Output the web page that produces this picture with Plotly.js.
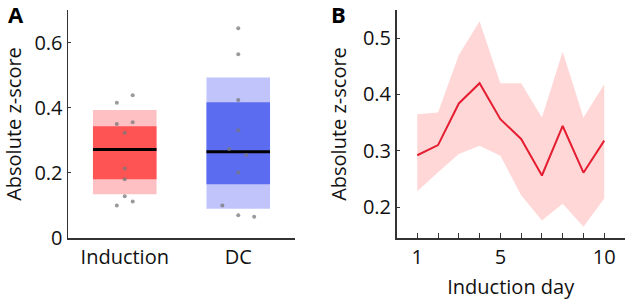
<!DOCTYPE html>
<html><head><meta charset="utf-8">
<script src="https://cdn.plot.ly/plotly-3.0.1.min.js"></script>
<style>html,body{margin:0;padding:0;background:#fff}#c{width:630px;height:300px}</style>
</head><body><div id="c"></div>
<script>
// Panel A data
const groups = ["Induction", "DC"];
const outerLow = [0.134, 0.090];
const outerHigh = [0.393, 0.493];
const innerLow = [0.180, 0.165];
const innerHigh = [0.343, 0.417];
const medians = [0.272, 0.265];
const inductionPts = [0.415, 0.438, 0.350, 0.355, 0.323, 0.213, 0.180, 0.128, 0.100, 0.112];
const inductionJitter = [-0.07, 0.07, -0.07, 0.07, 0, 0, 0, 0, -0.07, 0.07];
const dcPts = [0.644, 0.564, 0.424, 0.331, 0.273, 0.255, 0.201, 0.100, 0.070, 0.065];
const dcJitter = [0, 0, 0, 0, -0.08, 0.07, 0, -0.14, 0, 0.14];

// Panel B data
const days = [1, 2, 3, 4, 5, 6, 7, 8, 9, 10];
const meanZ = [0.292, 0.310, 0.384, 0.420, 0.356, 0.321, 0.256, 0.344, 0.261, 0.318];
const upperZ = [0.365, 0.368, 0.470, 0.530, 0.420, 0.420, 0.359, 0.476, 0.359, 0.418];
const lowerZ = [0.228, 0.262, 0.294, 0.309, 0.291, 0.221, 0.176, 0.206, 0.165, 0.215];

const outerColors = ["rgb(255,192,196)", "rgb(192,196,250)"];
const innerColors = ["rgb(255,84,84)", "rgb(92,108,240)"];
const boxW = 0.56;
const xs = groups.map((g, i) => i);

const traces = [];
traces.push({type: "bar", x: xs, base: outerLow, y: outerHigh.map((v, i) => v - outerLow[i]),
  width: boxW, marker: {color: outerColors, line: {width: 0}}, xaxis: "x", yaxis: "y", hoverinfo: "skip"});
traces.push({type: "bar", x: xs, base: innerLow, y: innerHigh.map((v, i) => v - innerLow[i]),
  width: boxW, marker: {color: innerColors, line: {width: 0}}, xaxis: "x", yaxis: "y", hoverinfo: "skip"});
medians.forEach((m, i) => {
  traces.push({type: "scatter", mode: "lines", x: [i - boxW / 2, i + boxW / 2], y: [m, m],
    line: {color: "#000", width: 3}, xaxis: "x", yaxis: "y"});
});
traces.push({type: "scatter", mode: "markers", x: inductionPts.map((v, k) => 0 + inductionJitter[k]), y: inductionPts,
  marker: {color: "rgba(120,120,120,0.75)", size: 4}, xaxis: "x", yaxis: "y"});
traces.push({type: "scatter", mode: "markers", x: dcPts.map((v, k) => 1 + dcJitter[k]), y: dcPts,
  marker: {color: "rgba(120,120,120,0.75)", size: 4}, xaxis: "x", yaxis: "y"});

traces.push({type: "scatter", mode: "lines", x: days, y: lowerZ, line: {width: 0}, xaxis: "x2", yaxis: "y2", hoverinfo: "skip"});
traces.push({type: "scatter", mode: "lines", x: days, y: upperZ, line: {width: 0}, fill: "tonexty",
  fillcolor: "rgba(255,205,205,0.8)", xaxis: "x2", yaxis: "y2", hoverinfo: "skip"});
traces.push({type: "scatter", mode: "lines", x: days, y: meanZ, line: {color: "rgb(230,30,50)", width: 2}, xaxis: "x2", yaxis: "y2"});

const font = {family: "Open Sans, sans-serif", size: 20, color: "#111"};
const tickVals2 = [0,1,2,3,4,5,6,7,8,9,10,11];
const tickText2 = tickVals2.map(v => (v === 1 || v === 5 || v === 10) ? String(v) : "");

const layout = {
  width: 630, height: 300, showlegend: false, barmode: "overlay",
  paper_bgcolor: "#fff", plot_bgcolor: "#fff",
  margin: {l: 0, r: 0, t: 0, b: 0},
  font: font,
  xaxis: {domain: [68/630, 295/630], range: [-0.5, 1.5], tickvals: xs, ticktext: groups,
    showline: true, linecolor: "#333", linewidth: 1.5, showgrid: false, zeroline: false,
    ticks: "", automargin: false, tickfont: font},
  yaxis: {domain: [62/300, 290/300], range: [0, 0.7], tickvals: [0, 0.2, 0.4, 0.6], ticktext: ["0", "0.2", "0.4", "0.6"],
    showline: true, linecolor: "#333", linewidth: 1.5, showgrid: false, zeroline: false,
    ticks: "inside", ticklen: 3, tickcolor: "#333", automargin: false, tickfont: font,
    title: {text: "Absolute z-score", font: font}},
  xaxis2: {domain: [396.5/630, 625/630], range: [0, 11], tickvals: tickVals2, ticktext: tickText2,
    showline: true, linecolor: "#333", linewidth: 1.5, showgrid: false, zeroline: false,
    ticks: "inside", ticklen: 5, tickcolor: "#333", automargin: false, tickfont: font,
    title: {text: "Induction day", font: font}},
  yaxis2: {domain: [62/300, 290/300], range: [0.145, 0.55], tickvals: [0.2, 0.3, 0.4, 0.5],
    showline: true, linecolor: "#333", linewidth: 1.5, showgrid: false, zeroline: false,
    ticks: "inside", ticklen: 3, tickcolor: "#333", automargin: false, tickfont: font, anchor: "x2",
    title: {text: "Absolute z-score", font: font}},
  annotations: [
    {text: "<b>A</b>", xref: "paper", yref: "paper", x: 16/630, y: 1 - 14/300, xanchor: "center", yanchor: "middle",
      showarrow: false, font: {family: "Open Sans, sans-serif", size: 22, color: "#000"}},
    {text: "<b>B</b>", xref: "paper", yref: "paper", x: 338/630, y: 1 - 14/300, xanchor: "center", yanchor: "middle",
      showarrow: false, font: {family: "Open Sans, sans-serif", size: 22, color: "#000"}}
  ]
};
layout.xaxis2.anchor = "y2";
Plotly.newPlot("c", traces, layout, {staticPlot: true, displayModeBar: false});
</script></body></html>
